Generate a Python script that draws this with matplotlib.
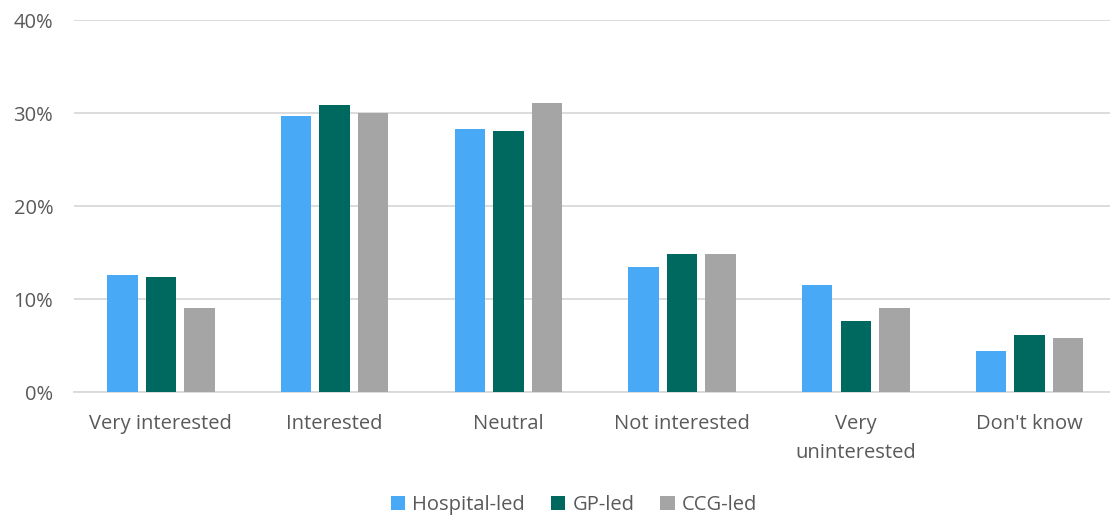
import matplotlib.pyplot as plt
import numpy as np
from matplotlib.ticker import FuncFormatter

plt.rcParams['font.family'] = ['Open Sans', 'DejaVu Sans']

categories = ["Very interested", "Interested", "Neutral", "Not interested", "Very\nuninterested", "Don't know"]
hospital_led = [12.6, 29.7, 28.3, 13.5, 11.5, 4.4]
gp_led = [12.4, 30.9, 28.1, 14.9, 7.7, 6.1]
ccg_led = [9.1, 30.0, 31.1, 14.9, 9.1, 5.8]

series = [("Hospital-led", hospital_led, "#48A9F7"),
          ("GP-led", gp_led, "#00695F"),
          ("CCG-led", ccg_led, "#A5A5A5")]

fig = plt.figure(figsize=(11.1, 5.16), dpi=100)
# plot area runs slightly past the right edge, as in the reference
ax = fig.add_axes([0.0667, 0.240, 0.939, 0.721])

x = np.arange(len(categories))
w = 0.175
step = 0.222
for i, (name, vals, col) in enumerate(series):
	ax.bar(x + (i - 1) * step, vals, width=w, color=col, label=name, zorder=3)

ax.set_xlim(-0.5, len(categories) - 0.5)
ax.set_ylim(0, 40)
ax.set_yticks([0, 10, 20, 30, 40])
ax.yaxis.set_major_formatter(FuncFormatter(lambda v, p: f"{v:.0f}%"))
ax.grid(axis='y', color='#D9D9D9', linewidth=1.3, zorder=0)
for s in ['top', 'right', 'left']:
	ax.spines[s].set_visible(False)
ax.spines['bottom'].set_color('#D9D9D9')
ax.spines['bottom'].set_linewidth(1.3)
ax.set_xticks(x)
ax.set_xticklabels(categories, linespacing=1.6)
ax.tick_params(axis='both', length=0, labelsize=14.5, colors='#595959')
ax.tick_params(axis='x', pad=16)
ax.tick_params(axis='y', pad=15)

ax.legend(loc='center', bbox_to_anchor=(574 / 1110, 11 / 516), bbox_transform=fig.transFigure,
	ncol=3, frameon=False, fontsize=14.5, labelcolor='#595959', handlelength=0.7,
	handleheight=0.7, handletextpad=0.35, columnspacing=1.3, borderpad=0)

fig.savefig("out.png", dpi=100)
